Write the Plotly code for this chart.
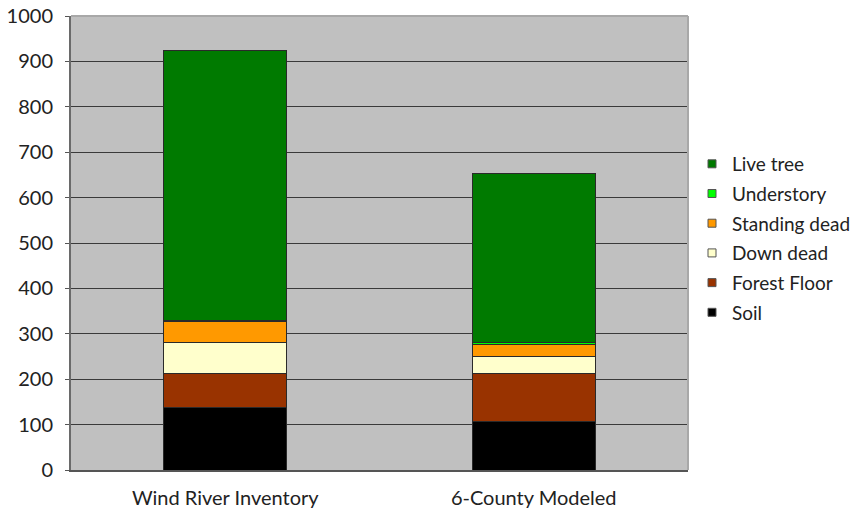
import plotly.graph_objects as go

# Carbon pools by site (stacked, bottom to top)
sites = ["Wind River Inventory", "6-County Modeled"]
soil = [138, 107]
forest_floor = [74, 106]
down_dead = [69, 37]
standing_dead = [47, 26]
understory = [2, 4]
live_tree = [595, 373]

pool_names = ["Soil", "Forest Floor", "Down dead", "Standing dead", "Understory", "Live tree"]
pool_values = [soil, forest_floor, down_dead, standing_dead, understory, live_tree]
pool_colors = ["#000000", "#993300", "#ffffcc", "#ff9900", "#00ff00", "#007a00"]

font_family = "Lato, 'Noto Sans', sans-serif"

fig = go.Figure()
for name, vals, color in zip(pool_names, pool_values, pool_colors):
    fig.add_trace(go.Bar(
        x=sites, y=vals, name=name,
        marker=dict(color=color, line=dict(color="#2a2a2a", width=1)),
        width=0.4, showlegend=False,
    ))

# Small square legend keys, top pool listed first
for name, color in zip(pool_names[::-1], pool_colors[::-1]):
    fig.add_trace(go.Scatter(
        x=[None], y=[None], mode="markers", name=name,
        legendgroup=name,
        marker=dict(symbol="square", size=8, color=color,
                    line=dict(color="#555555", width=1)),
    ))

plot_left, plot_right = 71, 868 - 180

fig.update_layout(
    barmode="stack",
    width=868, height=509,
    margin=dict(l=plot_left, r=180, t=16, b=39, autoexpand=False),
    paper_bgcolor="white",
    plot_bgcolor="#c0c0c0",
    font=dict(family=font_family, size=19, color="#222222"),
    showlegend=True,
    legend=dict(
        traceorder="grouped",
        x=(692 - plot_left) / (plot_right - plot_left),
        y=0.51, xanchor="left", yanchor="middle",
        font=dict(size=19, color="#222222"),
        itemwidth=30,
        tracegroupgap=2,
        bgcolor="rgba(0,0,0,0)",
    ),
    xaxis=dict(
        showgrid=False,
        showline=True, linecolor="#555555", linewidth=2,
        tickfont=dict(size=20),
        ticks="", ticklabelstandoff=9,
        automargin=False,
    ),
    yaxis=dict(
        range=[0, 1000], dtick=100,
        showgrid=True, gridcolor="#3a3a3a", gridwidth=1,
        showline=True, linecolor="#6a6a6a", linewidth=2,
        ticks="outside", ticklen=4, tickcolor="#555555",
        tickfont=dict(size=20), ticklabelstandoff=8,
        zeroline=False, automargin=False,
    ),
)

# Light frame along the top and right of the plotting area
fig.add_shape(type="line", xref="paper", yref="paper", x0=0, x1=1, y0=1, y1=1,
              line=dict(color="#a8a8a8", width=2))
fig.add_shape(type="line", xref="paper", yref="paper", x0=1, x1=1, y0=0, y1=1,
              line=dict(color="#a8a8a8", width=2))

fig.write_html("out.html")
